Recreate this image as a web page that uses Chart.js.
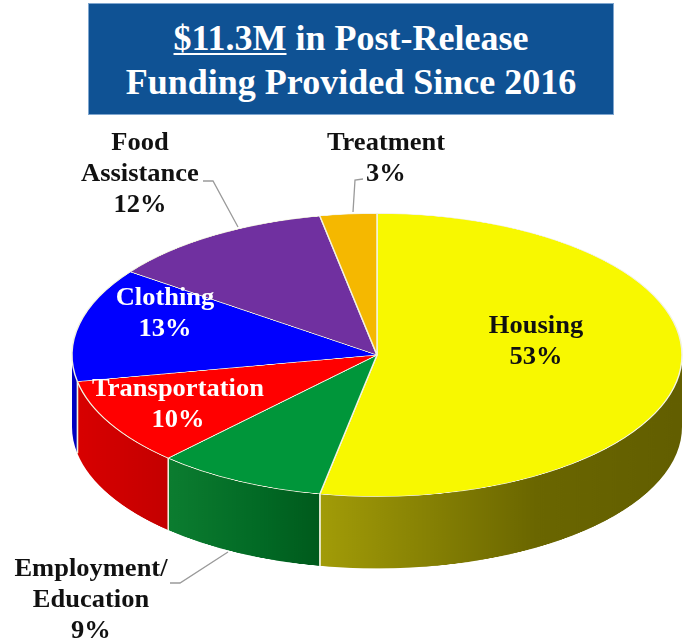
<!DOCTYPE html><html lang="en"><head><meta charset="UTF-8">
<title>Post-Release Funding</title>
<script src="https://cdn.jsdelivr.net/npm/chart.js"></script>
<style>
    body {
        margin: 0;
        background: #ffffff;
        width: 684px;
        height: 643px;
        overflow: hidden;
        position: relative;
        font-family: "Liberation Serif", "Times New Roman", serif;
    }
    .title {
        position: absolute;
        left: 88px;
        top: 3px;
        width: 524px;
        height: 98px;
        padding-top: 12px;
        background: #0f5294;
        border: 1px solid #7fa6cf;
        box-sizing: content-box;
        color: #ffffff;
        font-weight: bold;
        font-size: 36px;
        line-height: 44px;
        text-align: center;
    }
    .title u {
        text-decoration-thickness: 2px;
        text-underline-offset: 3px;
    }
    #pieWrap {
        position: absolute;
        left: 0;
        top: 213px;
        transform: scaleY(0.464);
        transform-origin: 0 0;
    }
    .lbl {
        position: absolute;
        transform: translate(-50%, -50%) scaleX(1.06);
        font-weight: bold;
        font-size: 25px;
        line-height: 31px;
        text-align: center;
        white-space: nowrap;
        color: #111111;
    }
    .white { color: #ffffff; }
    svg { position: absolute; left: 0; top: 0; }
</style>
</head>
<body>
    <div class="title"><u>$11.3M</u> in Post-Release<br>Funding Provided Since 2016</div>
    <div id="pieWrap"><canvas id="pie" width="684" height="767"></canvas></div>
    <svg width="684" height="643">
        <polyline points="203,181 213,181 238,227" fill="none" stroke="#9a9a9a" stroke-width="1.3"/>
        <polyline points="363,179 355,180 353,212" fill="none" stroke="#9a9a9a" stroke-width="1.3"/>
        <polyline points="170,583 180,583 228,552" fill="none" stroke="#9a9a9a" stroke-width="1.3"/>
    </svg>
    <div id="labels"></div>
    <script>
        const categories = ["Housing", "Employment/Education", "Transportation", "Clothing", "Food Assistance", "Treatment"];
        const shares = [53, 9, 10, 13, 12, 3];

        const topColors = ["#f8f800", "#00963a", "#ff0000", "#0000ff", "#7030a0", "#f5b800"];
        const sideColors = [
            ["#a29c08", "#6a6600", "#625e00"],
            ["#0c7d30", "#026a25", "#005a1c"],
            ["#d80000", "#cc0000", "#c40000"],
            ["#0000c8", "#0000bc", "#0000b0"],
            ["#502078", "#4a1c70", "#441868"],
            ["#b88a00", "#b08400", "#a87e00"]
        ];
        const depth = 155;

        // label text and where it sits on the page
        const labelSpots = [
            {text: "Housing<br>53%", x: 536, y: 340, cls: ""},
            {text: "Employment/<br>Education<br>9%", x: 91, y: 598, cls: ""},
            {text: "Transportation<br>10%", x: 178, y: 403, cls: "white"},
            {text: "Clothing<br>13%", x: 165, y: 312, cls: "white"},
            {text: "Food<br>Assistance<br>12%", x: 140, y: 172, cls: ""},
            {text: "Treatment<br>3%", x: 386, y: 157, cls: ""}
        ];

        const sidePlugin = {
            id: "pieSides",
            beforeDatasetsDraw(chart) {
                const ctx = chart.ctx;
                const arcs = chart.getDatasetMeta(0).data;
                arcs.forEach((arc, i) => {
                    const p = arc.getProps(["x", "y", "startAngle", "endAngle", "outerRadius"], true);
                    const a0 = Math.max(p.startAngle, 0);
                    const a1 = Math.min(p.endAngle, Math.PI);
                    if (a0 >= a1) return;
                    const r = p.outerRadius;
                    const xa = p.x + r * Math.cos(a0);
                    const xb = p.x + r * Math.cos(a1);
                    const g = ctx.createLinearGradient(Math.min(xa, xb), 0, Math.max(xa, xb), 0);
                    g.addColorStop(0, sideColors[i][0]);
                    g.addColorStop(0.6, sideColors[i][1]);
                    g.addColorStop(1, sideColors[i][2]);
                    ctx.save();
                    ctx.beginPath();
                    ctx.arc(p.x, p.y, r, a0, a1);
                    ctx.arc(p.x, p.y + depth, r, a1, a0, true);
                    ctx.closePath();
                    ctx.fillStyle = g;
                    ctx.fill();
                    ctx.strokeStyle = "#f2f2e0";
                    ctx.lineWidth = 1.5;
                    [p.startAngle, p.endAngle].forEach(t => {
                        if (t > 0.02 && t < Math.PI - 0.02) {
                            const ex = p.x + r * Math.cos(t);
                            const ey = p.y + r * Math.sin(t);
                            ctx.beginPath();
                            ctx.moveTo(ex, ey);
                            ctx.lineTo(ex, ey + depth);
                            ctx.stroke();
                        }
                    });
                    ctx.restore();
                });
            }
        };

        new Chart(document.getElementById("pie"), {
            type: "pie",
            data: {
                labels: categories,
                datasets: [{
                    data: shares,
                    backgroundColor: topColors,
                    borderColor: "#f2f2e0",
                    borderWidth: 1.5,
                    hoverOffset: 0
                }]
            },
            options: {
                responsive: false,
                animation: false,
                radius: 305,
                layout: {padding: {left: 70, right: 0, top: 0, bottom: depth}},
                plugins: {
                    legend: {display: false},
                    tooltip: {enabled: false}
                },
                events: []
            },
            plugins: [sidePlugin]
        });

        const holder = document.getElementById("labels");
        labelSpots.forEach(s => {
            const d = document.createElement("div");
            d.className = "lbl " + s.cls;
            d.style.left = s.x + "px";
            d.style.top = s.y + "px";
            d.innerHTML = s.text;
            holder.appendChild(d);
        });
    </script>
</body>
</html>
